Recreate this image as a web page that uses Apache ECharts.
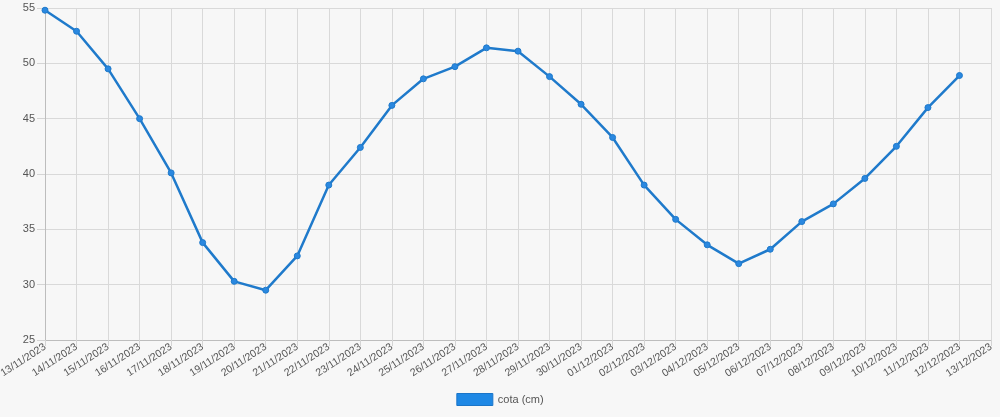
<!DOCTYPE html>
<html>
<head>
<meta charset="utf-8">
<script src="https://cdn.jsdelivr.net/npm/echarts@6/dist/echarts.min.js"></script>
<style>
html,body{margin:0;padding:0;background:#f7f7f7;}
#c{width:1000px;height:417px;}
</style>
</head>
<body>
<div id="c"></div>
<script>
const categories = ["13/11/2023","14/11/2023","15/11/2023","16/11/2023","17/11/2023","18/11/2023","19/11/2023","20/11/2023","21/11/2023","22/11/2023","23/11/2023","24/11/2023","25/11/2023","26/11/2023","27/11/2023","28/11/2023","29/11/2023","30/11/2023","01/12/2023","02/12/2023","03/12/2023","04/12/2023","05/12/2023","06/12/2023","07/12/2023","08/12/2023","09/12/2023","10/12/2023","11/12/2023","12/12/2023","13/12/2023"];
const cota = [54.8,52.9,49.5,45.0,40.1,33.8,30.3,29.5,32.6,39.0,42.4,46.2,48.6,49.7,51.4,51.1,48.8,46.3,43.3,39.0,35.9,33.6,31.9,33.2,35.7,37.3,39.6,42.5,46.0,48.9,null];
const seriesName = "cota (cm)";

const chart = echarts.init(document.getElementById('c'), null, {renderer:'canvas'});
chart.setOption({
  backgroundColor:'#f7f7f7',
  animation:false,
  textStyle:{fontFamily:'Liberation Sans, Arial, sans-serif'},
  grid:{left:45,right:9,top:8,bottom:77,containLabel:false,outerBoundsMode:'none'},
  legend:{
    bottom:6,left:'center',
    itemWidth:36,itemHeight:12,itemGap:10,
    icon:'rect',
    textStyle:{fontSize:11,color:'#555',fontFamily:'Liberation Sans, Arial, sans-serif'},
    data:[{name:seriesName,itemStyle:{color:'#1e88e5',borderColor:'#1b75c8',borderWidth:1}}]
  },
  xAxis:{
    type:'category',
    data:categories,
    boundaryGap:false,
    axisLine:{lineStyle:{color:'#bdbdbd',width:1}},
    axisTick:{show:true,alignWithLabel:true,length:6,lineStyle:{color:'#d4d4d4'}},
    axisLabel:{rotate:33,fontSize:10.5,color:'#555',margin:6,interval:0},
    splitLine:{show:true,lineStyle:{color:'#d9d9d9',width:1}}
  },
  yAxis:{
    type:'value',
    min:25,max:55,interval:5,
    axisLine:{show:true,lineStyle:{color:'#bdbdbd',width:1}},
    axisTick:{show:true,length:8,lineStyle:{color:'#d4d4d4'}},
    axisLabel:{fontSize:11,color:'#555',margin:10},
    splitLine:{show:true,lineStyle:{color:'#d9d9d9',width:1}}
  },
  series:[{
    name:seriesName,
    type:'line',
    data:cota,
    connectNulls:false,
    symbol:'circle',
    symbolSize:6,
    lineStyle:{color:'#1f7acb',width:2.5},
    itemStyle:{color:'#2a88e0',borderColor:'#1f7acb',borderWidth:1}
  }]
});
</script>
</body>
</html>
